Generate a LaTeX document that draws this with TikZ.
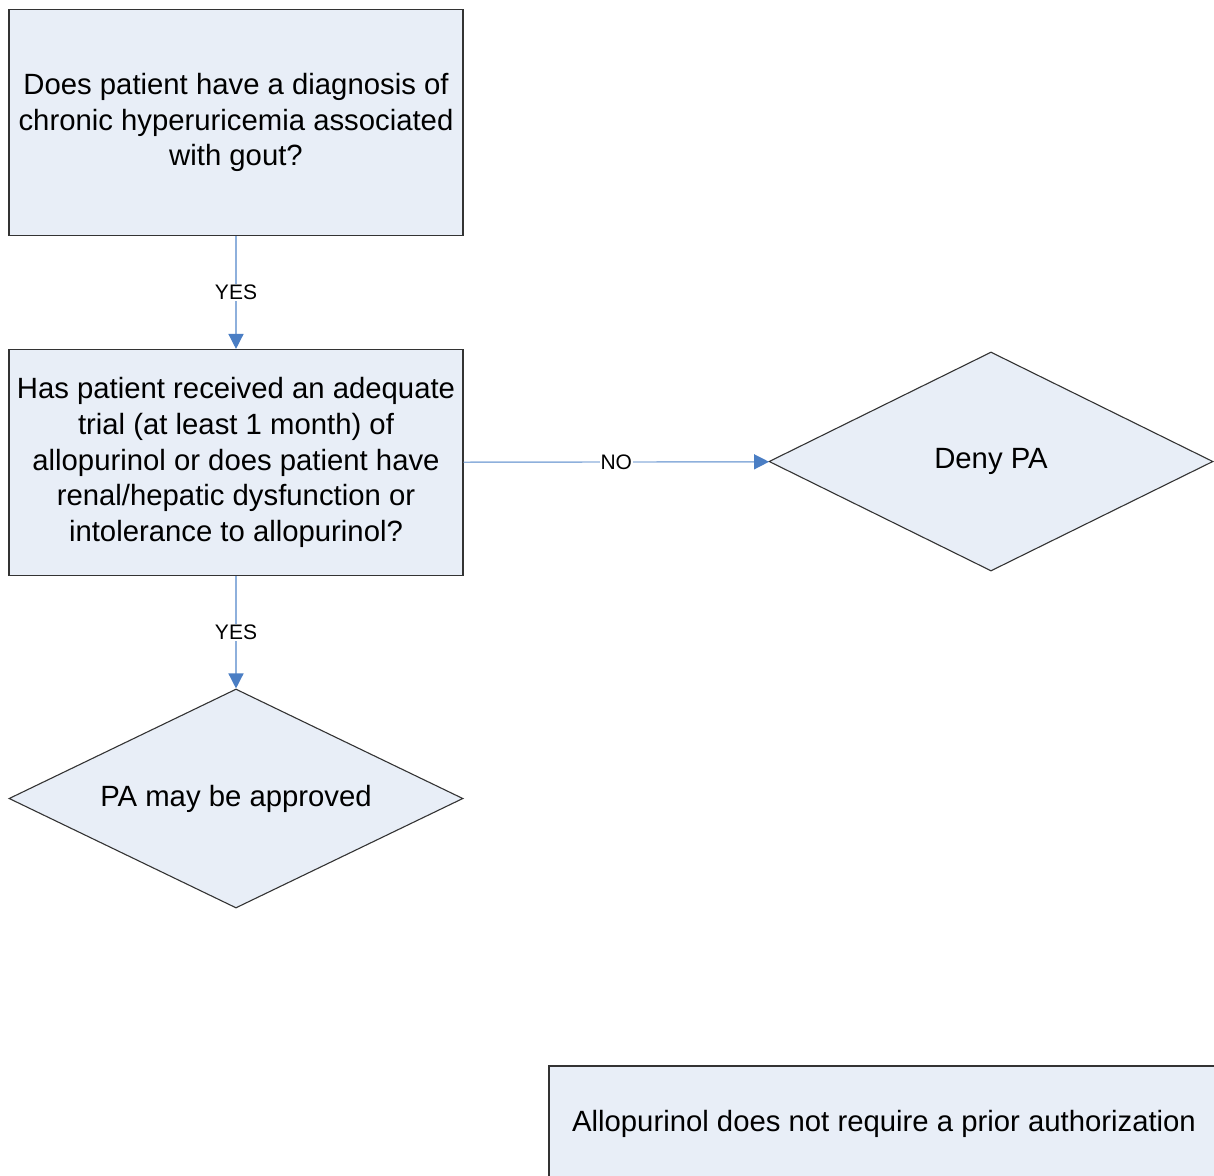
\documentclass[tikz,border=0pt]{standalone}
\usepackage{fontspec}
\setmainfont{Liberation Sans}
\usepackage{xcolor}
\usetikzlibrary{positioning,arrows.meta,shapes.geometric}
\definecolor{boxfill}{HTML}{E8EEF7}
\definecolor{boxline}{HTML}{333333}
\definecolor{linkline}{HTML}{8EB0DC}
\definecolor{linkhead}{HTML}{4A7EC4}
\begin{document}
\begin{tikzpicture}[
  x=1pt, y=-1pt,
  box/.style={draw=boxline, line width=1.1pt, fill=boxfill, minimum width=454pt, minimum height=226pt, align=center, inner sep=0pt, font=\fontsize{29.3}{35.7}\selectfont},
  decision/.style={diamond, aspect=2.03, draw=boxline, line width=1.1pt, fill=boxfill, minimum width=444pt, minimum height=219pt, inner sep=0pt, align=center, font=\fontsize{29.3}{35.7}\selectfont},
  arr/.style={draw=linkline, line width=1.4pt, -{Triangle[length=15pt, width=15pt, color=linkhead, fill=linkhead]}},
  lbl/.style={fill=white, inner sep=1pt, font=\fontsize{21}{24}\selectfont}
]
\useasboundingbox (0,0) rectangle (1214,1175);
\fill[white] (0,0) rectangle (1214,1175);
\node[box] (gout) at (236,122.5) {Does patient have a diagnosis of\\chronic hyperuricemia associated\\with gout?};
\node[box] (trial) at (236,462.5) {Has patient received an adequate\\trial (at least 1 month) of\\allopurinol or does patient have\\renal/hepatic dysfunction or\\intolerance to allopurinol?};
\node[decision] (deny) at (991,461.5) {Deny PA};
\node[decision, aspect=2.07, minimum width=454pt] (approve) at (236,798.5) {PA may be approved};
\node[box, minimum width=670pt, minimum height=116pt] (note) at (884,1124) {Allopurinol does not require a prior authorization};
\draw[arr] (gout) -- node[lbl]{YES} (trial);
\draw[arr] (trial) -- node[lbl]{YES} (approve);
\draw[arr] (trial) -- node[lbl]{NO} (deny);
\end{tikzpicture}
\end{document}
